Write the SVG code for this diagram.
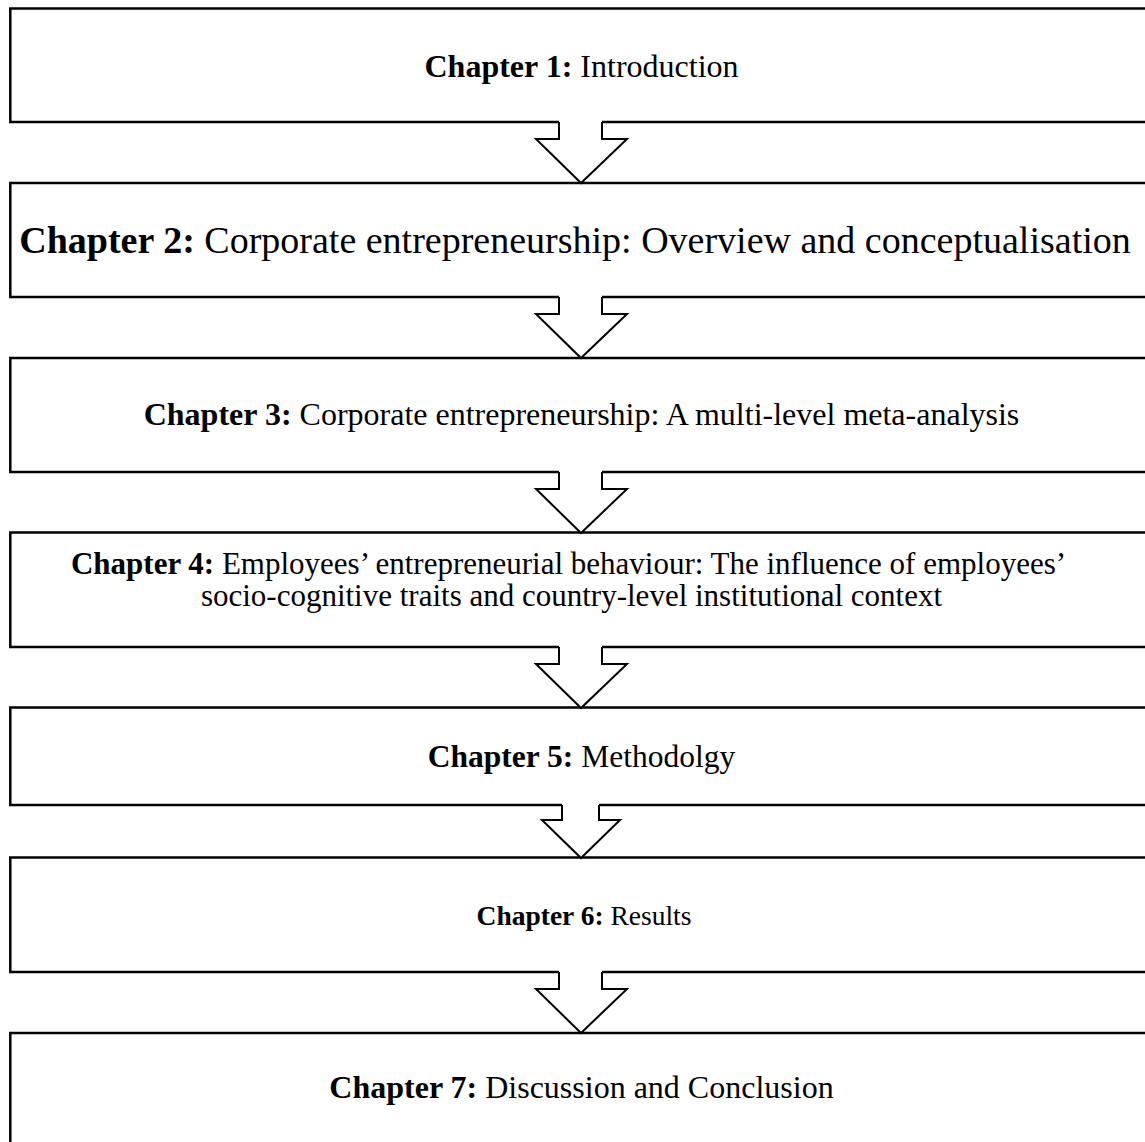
<svg xmlns="http://www.w3.org/2000/svg" width="1145" height="1142" viewBox="0 0 1145 1142">
  <style>
    .box { fill: #ffffff; stroke: #000000; stroke-width: 2.5; }
    .lbl { font-family: "Liberation Serif", "Times New Roman", serif; font-size: 32px; fill: #000000; text-anchor: middle; }
    .big { font-size: 38px; }
    .b { font-weight: bold; }
    .gap { fill: #ffffff; stroke: none; }
    .arrow { fill: none; stroke: #000000; stroke-width: 2; stroke-linejoin: miter; }
  </style>
  <defs>
    <!-- block arrow pointing down, drawn relative to the bottom edge of the box above -->
    <g id="down-arrow">
      <path class="gap" d="M559,-2 V17 H536 L581,61 L627,17 H602 V-2 Z"/>
      <path class="arrow" d="M559,0 V17 H536 L581,61 L627,17 H602 V0"/>
    </g>
  </defs>
  <rect width="1145" height="1142" fill="#ffffff"/>

  <g id="ch1">
    <rect class="box" x="10.3" y="8.5" width="1150" height="113.5"/>
    <text class="lbl" x="581.5" y="77"><tspan class="b">Chapter 1:</tspan> Introduction</text>
  </g>
  <g id="ch2">
    <rect class="box" x="10.3" y="183" width="1150" height="114"/>
    <text class="lbl big" x="575" y="253"><tspan class="b">Chapter 2:</tspan> Corporate entrepreneurship: Overview and conceptualisation</text>
  </g>
  <g id="ch3">
    <rect class="box" x="10.3" y="358" width="1150" height="114"/>
    <text class="lbl" x="581.5" y="425"><tspan class="b">Chapter 3:</tspan> Corporate entrepreneurship: A multi-level meta-analysis</text>
  </g>
  <g id="ch4">
    <rect class="box" x="10.3" y="532.5" width="1150" height="114.5"/>
    <text class="lbl" x="568.5" y="574" style="font-size:31px"><tspan class="b">Chapter 4:</tspan> Employees’ entrepreneurial behaviour: The influence of employees’</text>
    <text class="lbl" x="571.5" y="606" style="font-size:31px">socio-cognitive traits and country-level institutional context</text>
  </g>
  <g id="ch5">
    <rect class="box" x="10.3" y="707.5" width="1150" height="97.5"/>
    <text class="lbl" x="581.5" y="767" style="font-size:31.5px"><tspan class="b">Chapter 5:</tspan> Methodolgy</text>
  </g>
  <g id="ch6">
    <rect class="box" x="10.3" y="857.5" width="1150" height="114.5"/>
    <text class="lbl" x="584" y="925" style="font-size:27.5px"><tspan class="b">Chapter 6:</tspan> Results</text>
  </g>
  <g id="ch7">
    <rect class="box" x="10.3" y="1033" width="1150" height="130"/>
    <text class="lbl" x="581.5" y="1098"><tspan class="b">Chapter 7:</tspan> Discussion and Conclusion</text>
  </g>

  <g id="connectors">
    <use href="#down-arrow" transform="translate(0,122)"/>
    <use href="#down-arrow" transform="translate(0,297)"/>
    <use href="#down-arrow" transform="translate(0,472)"/>
    <use href="#down-arrow" transform="translate(0,647)"/>
    <!-- shorter, narrower arrow between chapters 5 and 6 -->
    <path class="gap" d="M562,803 V820 H542 L581,858 L620,820 H599 V803 Z"/>
    <path class="arrow" d="M562,805 V820 H542 L581,858 L620,820 H599 V805"/>
    <use href="#down-arrow" transform="translate(0,972)"/>
  </g>
</svg>
